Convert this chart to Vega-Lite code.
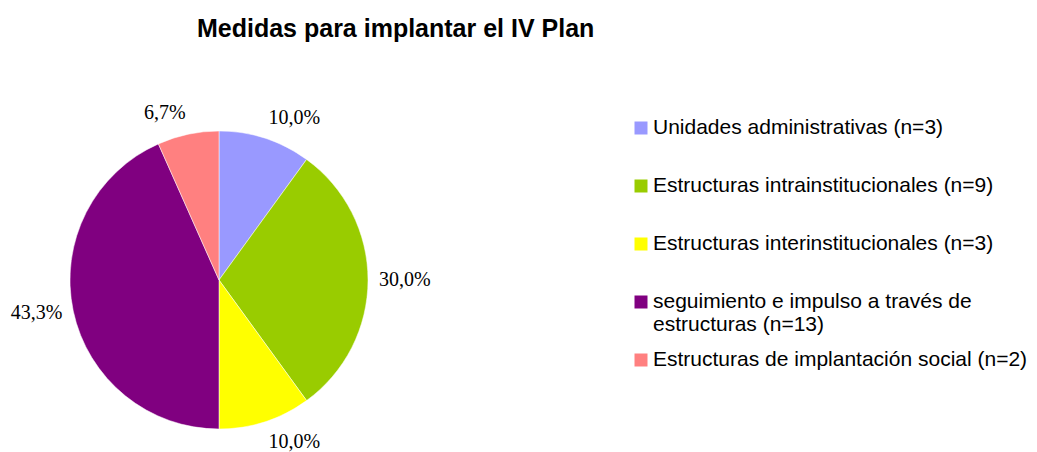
{
  "$schema": "https://vega.github.io/schema/vega-lite/v6.json",
  "padding": {"left": 0, "top": 17, "right": 0, "bottom": 0},
  "background": "white",
  "config": {
    "view": {"stroke": null},
    "concat": {"spacing": 196},
    "locale": {"number": {"decimal": ",", "thousands": ".", "grouping": [3], "currency": ["", " €"]}}
  },
  "title": {
    "text": "Medidas para implantar el IV Plan",
    "anchor": "start",
    "dx": 197,
    "font": "Liberation Sans",
    "fontSize": 25,
    "fontWeight": "bold",
    "color": "black",
    "baseline": "alphabetic",
    "offset": 39
  },
  "data": {
    "values": [
      {"medida": "Unidades administrativas (n=3)", "n": 3, "share": 0.1, "orden": 1},
      {"medida": "Estructuras intrainstitucionales (n=9)", "n": 9, "share": 0.3, "orden": 2},
      {"medida": "Estructuras interinstitucionales (n=3)", "n": 3, "share": 0.1, "orden": 3},
      {"medida": "seguimiento e impulso a través de estructuras (n=13)", "n": 13, "share": 0.4333, "orden": 4},
      {"medida": "Estructuras de implantación social (n=2)", "n": 2, "share": 0.0667, "orden": 5}
    ]
  },
  "hconcat": [
    {
      "width": 438,
      "height": 358,
      "transform": [{"joinaggregate": [{"op": "sum", "field": "n", "as": "total"}]}],
      "encoding": {
        "theta": {"field": "n", "type": "quantitative", "stack": true},
        "order": {"field": "orden", "type": "quantitative"}
      },
      "layer": [
        {
          "mark": {"type": "arc", "outerRadius": 149, "stroke": "white", "strokeWidth": 0.5},
          "encoding": {
            "color": {
              "field": "medida",
              "type": "nominal",
              "scale": {
                "domain": [
                  "Unidades administrativas (n=3)",
                  "Estructuras intrainstitucionales (n=9)",
                  "Estructuras interinstitucionales (n=3)",
                  "seguimiento e impulso a través de estructuras (n=13)",
                  "Estructuras de implantación social (n=2)"
                ],
                "range": ["#9999FF", "#99CC00", "#FFFF00", "#800080", "#FF8080"]
              },
              "legend": null
            }
          }
        },
        {
          "mark": {
            "type": "text",
            "radius": 160,
            "font": "Liberation Serif",
            "fontSize": 20,
            "color": "black",
            "align": {"expr": "sin(PI * (datum.n_start + datum.n_end) / datum.total) >= 0 ? 'left' : 'right'"},
            "baseline": {"expr": "abs(cos(PI * (datum.n_start + datum.n_end) / datum.total)) < 0.3 ? 'middle' : (cos(PI * (datum.n_start + datum.n_end) / datum.total) > 0 ? 'bottom' : 'top')"}
          },
          "encoding": {
            "text": {"field": "share", "type": "quantitative", "format": ".1%"}
          }
        }
      ]
    },
    {
      "width": 14,
      "height": 286,
      "encoding": {
        "y": {
          "field": "medida",
          "type": "nominal",
          "scale": {
            "type": "point",
            "padding": 0.4655,
            "domain": [
              "Unidades administrativas (n=3)",
              "Estructuras intrainstitucionales (n=9)",
              "Estructuras interinstitucionales (n=3)",
              "seguimiento e impulso a través de estructuras (n=13)",
              "Estructuras de implantación social (n=2)"
            ]
          },
          "axis": null
        }
      },
      "layer": [
        {
          "mark": {"type": "square", "size": 169, "filled": true, "opacity": 1},
          "encoding": {
            "color": {"field": "medida", "type": "nominal", "legend": null}
          }
        },
        {
          "mark": {
            "type": "text",
            "align": "left",
            "baseline": "middle",
            "dx": 12,
            "font": "Liberation Sans",
            "fontSize": 21,
            "lineHeight": 23,
            "color": "black",
            "text": {"expr": "split(replace(datum.medida, 'través de ', 'través de|'), '|')"}
          },
          "encoding": {}
        }
      ]
    }
  ]
}
